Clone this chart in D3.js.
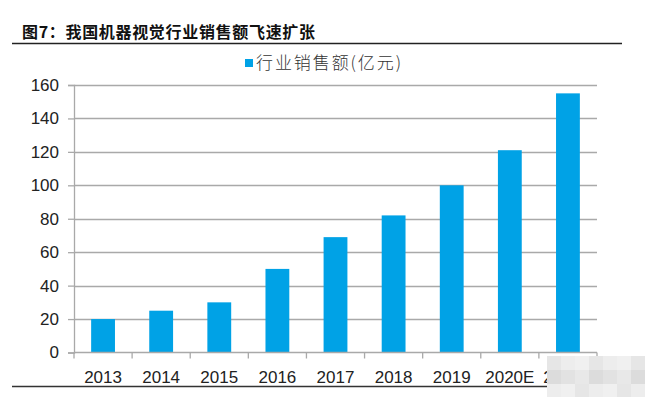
<!DOCTYPE html>
<html>
<head>
<meta charset="utf-8">
<script src="https://cdn.jsdelivr.net/npm/d3@7"></script>
<style>
  body { margin: 0; background: #fff; }
  svg { display: block; }
</style>
</head>
<body>
<div id="chart"></div>
<script>
const title = '图7：我国机器视觉行业销售额飞速扩张';
const seriesName = '行业销售额(亿元)';
const years = ['2013', '2014', '2015', '2016', '2017', '2018', '2019', '2020E', '2021E'];
const sales = [20, 25, 30, 50, 69, 82, 100, 121, 155];
const yTicks = [0, 20, 40, 60, 80, 100, 120, 140, 160];

const width = 648, height = 397;
const margin = { top: 85, right: 51, bottom: 44, left: 74 };
const barColor = '#00a2e6';
const gridColor = '#a9a9a9';

const svg = d3.select('#chart').append('svg').attr('width', width).attr('height', height);

// header
svg.append('text')
  .attr('x', 22).attr('y', 38)
  .attr('textLength', 293)
  .style('font-family', '"Noto Sans CJK SC", sans-serif')
  .style('font-size', '16px').style('font-weight', 'bold').attr('fill', '#111')
  .text(title);
svg.append('line').attr('x1', 12).attr('x2', 622).attr('y1', 43.5).attr('y2', 43.5)
  .attr('stroke', '#222').attr('stroke-width', 1.5);

const x = d3.scaleBand().domain(years).range([margin.left, width - margin.right]).paddingInner(0.59).paddingOuter(0.295);
const y = d3.scaleLinear().domain([0, 160]).range([height - margin.bottom - 0.5, margin.top]);

// gridlines
svg.append('g').selectAll('line').data(yTicks.filter(d => d > 0)).join('line')
  .attr('x1', margin.left).attr('x2', width - margin.right)
  .attr('y1', d => Math.round(y(d)) + 0.5).attr('y2', d => Math.round(y(d)) + 0.5)
  .attr('stroke', gridColor).attr('stroke-width', 1.3);

// y axis
const yAxis = svg.append('g').attr('transform', `translate(${margin.left},0)`)
  .call(d3.axisLeft(y).tickValues(yTicks).tickSize(6).tickPadding(9));
yAxis.selectAll('line, path').attr('stroke', gridColor).attr('stroke-width', 1.3);
yAxis.selectAll('text').style('font-family', '"Liberation Sans", Arial, sans-serif')
  .style('font-size', '17px').attr('fill', '#222');

// bars
svg.append('g').selectAll('rect').data(sales).join('rect')
  .attr('x', (d, i) => x(years[i]))
  .attr('width', x.bandwidth())
  .attr('y', d => y(d))
  .attr('height', d => y(0) - y(d))
  .attr('fill', barColor);

// x axis with boundary ticks
const x0 = height - margin.bottom - 0.5;
const xg = svg.append('g');
xg.append('line').attr('x1', margin.left).attr('x2', width - margin.right)
  .attr('y1', x0).attr('y2', x0).attr('stroke', gridColor).attr('stroke-width', 1.3);
const step = x.step();
xg.selectAll('.bt').data(d3.range(years.length + 1)).join('line').attr('class', 'bt')
  .attr('x1', i => margin.left + i * step).attr('x2', i => margin.left + i * step)
  .attr('y1', x0).attr('y2', x0 + 6).attr('stroke', gridColor).attr('stroke-width', 1.3);
xg.selectAll('text').data(years).join('text')
  .attr('x', d => x(d) + x.bandwidth() / 2).attr('y', x0 + 30)
  .attr('text-anchor', 'middle')
  .style('font-family', '"Liberation Sans", Arial, sans-serif')
  .style('font-size', '17px').attr('fill', '#222')
  .text(d => d);

// legend
const lg = svg.append('g').attr('transform', 'translate(245,59)');
lg.append('rect').attr('width', 8).attr('height', 8).attr('fill', barColor);
lg.append('text').attr('x', 11).attr('y', 10)
  .attr('textLength', 145)
  .style('font-family', '"Noto Sans CJK SC", sans-serif')
  .style('font-size', '17px').style('font-weight', 300).attr('fill', '#333')
  .text(seriesName);

// bottom rule
svg.append('line').attr('x1', 12).attr('x2', 560).attr('y1', 386.5).attr('y2', 386.5)
  .attr('stroke', '#333').attr('stroke-width', 1.3);

// blurred watermark patch over the bottom right corner
const wm = svg.append('g');
const wmCols = ['#e6e6e6', '#dcdcdc', '#ededed', '#e2e2e2', '#f0f0f0', '#e8e8e8'];
const cell = 14;
for (let r = 0; r < 3; r++) {
  for (let c = 0; c < 7; c++) {
    wm.append('rect').attr('x', 547 + c * cell).attr('y', 356 + r * cell)
      .attr('width', cell).attr('height', cell)
      .attr('fill', wmCols[(r * 7 + c * 2) % wmCols.length]);
  }
}
</script>
</body>
</html>
